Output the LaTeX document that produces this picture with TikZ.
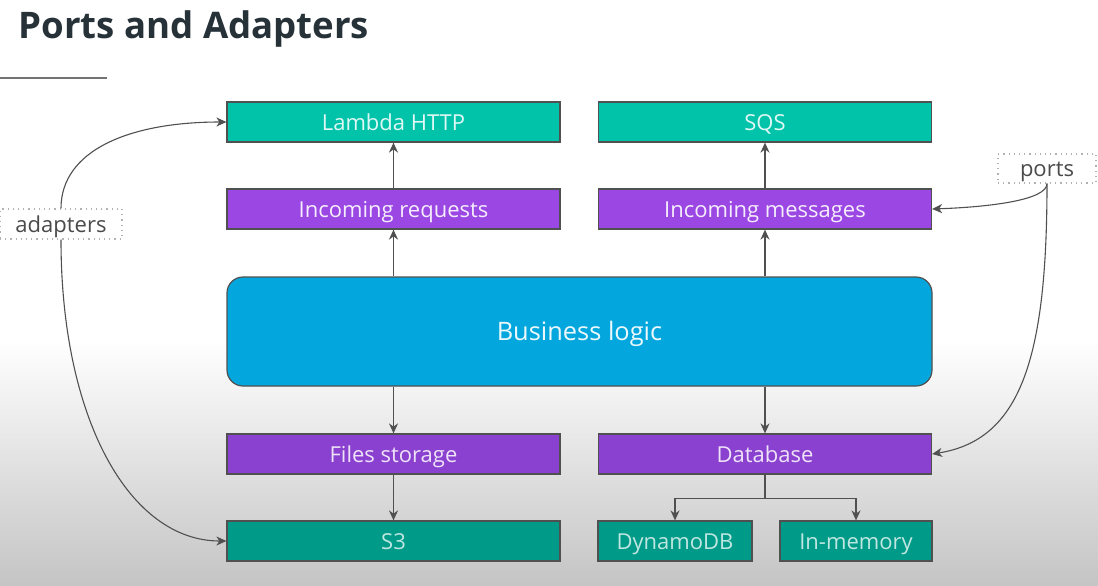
\documentclass[tikz,border=0pt]{standalone}
\usepackage{fontspec}
\setmainfont{Open Sans}
\usepackage{xcolor}
\usepackage{tikz}
\usetikzlibrary{arrows.meta}

\definecolor{tealtop}{HTML}{00C3A9}
\definecolor{tealbot}{HTML}{009B88}
\definecolor{purptop}{HTML}{9B47E3}
\definecolor{purpbot}{HTML}{8B41CF}
\definecolor{bizblue}{HTML}{04A7DD}
\definecolor{edge}{HTML}{505050}
\definecolor{titlecol}{HTML}{263238}
\definecolor{labelcol}{HTML}{4A4A4A}

\begin{document}
\begin{tikzpicture}[x=0.5pt,y=-0.5pt,
    box/.style={draw=edge, line width=0.6pt, rectangle, minimum width=166.5pt, minimum height=20pt, inner sep=0pt, text height=8pt, text depth=0pt, font=\fontsize{11}{13}\selectfont},
    adapterbox/.style={box, fill=tealtop, text=white!88!tealtop},
    adapterlow/.style={box, fill=tealbot, text=white!75!tealbot},
    portbox/.style={box, fill=purptop, text=white!90!purptop},
    portlow/.style={box, fill=purpbot, text=white!85!purpbot},
    tag/.style={draw=black!30, dotted, line width=0.6pt, fill=white, inner sep=0pt, text height=8pt, text depth=0pt, text=labelcol, font=\fontsize{11}{13}\selectfont},
    arr/.style={-{Stealth[length=5pt,width=4.5pt]}, draw=edge, line width=0.8pt},
    pointer/.style={-{Stealth[length=5pt,width=4.5pt,inset=1.5pt]}, draw=edge, line width=0.55pt}]
                            % Background
                            \useasboundingbox (0,0) rectangle (1098,585);
                            \fill[white] (0,0) rectangle (1098,340);
                            \shade[top color=white, bottom color=black!23] (0,340) rectangle (1098,585);
                            % Title
                            \node[anchor=base west, inner sep=0pt, text=titlecol, font=\fontsize{18.3}{22}\selectfont\bfseries] (title) at (18,38) {Ports and Adapters};
                            \draw[black!55, line width=0.6pt] (0,78) -- (107,78);

                            % Top adapters
                            \node[adapterbox] (lambda) at (393.5,122) {Lambda HTTP};
                            \node[adapterbox] (sqs) at (765,122) {SQS};
                            % Incoming ports
                            \node[portbox] (requests) at (393.5,209) {Incoming requests};
                            \node[portbox] (messages) at (765,209) {Incoming messages};
                            % Business logic
                            \node[draw=edge, line width=0.6pt, fill=bizblue, rounded corners=8pt, minimum width=352.5pt, minimum height=54.5pt, text height=9pt, text depth=0pt, text=white!92!bizblue, font=\fontsize{12.7}{15}\selectfont] (logic) at (579.5,331.5) {Business logic};
                            % Outgoing ports
                            \node[portlow] (files) at (393.5,454) {Files storage};
                            \node[portlow] (database) at (765,454) {Database};
                            % Bottom adapters
                            \node[adapterlow] (s3) at (393.5,541) {S3};
                            \node[adapterlow, minimum width=77pt] (dynamo) at (675,541) {DynamoDB};
                            \node[adapterlow, minimum width=76pt] (inmemory) at (856,541) {In-memory};

                            % Labels
                            \node[tag, minimum width=61pt, minimum height=15pt] (adapters) at (61,224) {adapters};
                            \node[tag, minimum width=49pt, minimum height=14.5pt] (ports) at (1047,168.5) {ports};

                            % Arrows
                            \draw[arr] (logic.north -| requests) -- (requests);
                            \draw[arr] (requests) -- (lambda);
                            \draw[arr] (logic.north -| messages) -- (messages);
                            \draw[arr] (messages) -- (sqs);
                            \draw[arr] (logic.south -| files) -- (files);
                            \draw[arr] (files) -- (s3);
                            \draw[arr] (logic.south -| database) -- (database);
                            \draw[arr] (database.south) -- ++(0,24) -| (dynamo.north);
                            \draw[arr] (database.south) -- ++(0,24) -| (inmemory.north);

                            % Curved pointers
                            \draw[pointer] (adapters.north) .. controls (61,150) and (130,122) .. (lambda.west);
                            \draw[pointer] (adapters.south) .. controls (61,420) and (130,541) .. (s3.west);
                            \draw[pointer] (ports.south) .. controls (1047,200) and (990,207) .. (messages.east);
                            \draw[pointer] (ports.south) .. controls (1047,360) and (1020,440) .. (database.east);
                        \end{tikzpicture}
\end{document}
